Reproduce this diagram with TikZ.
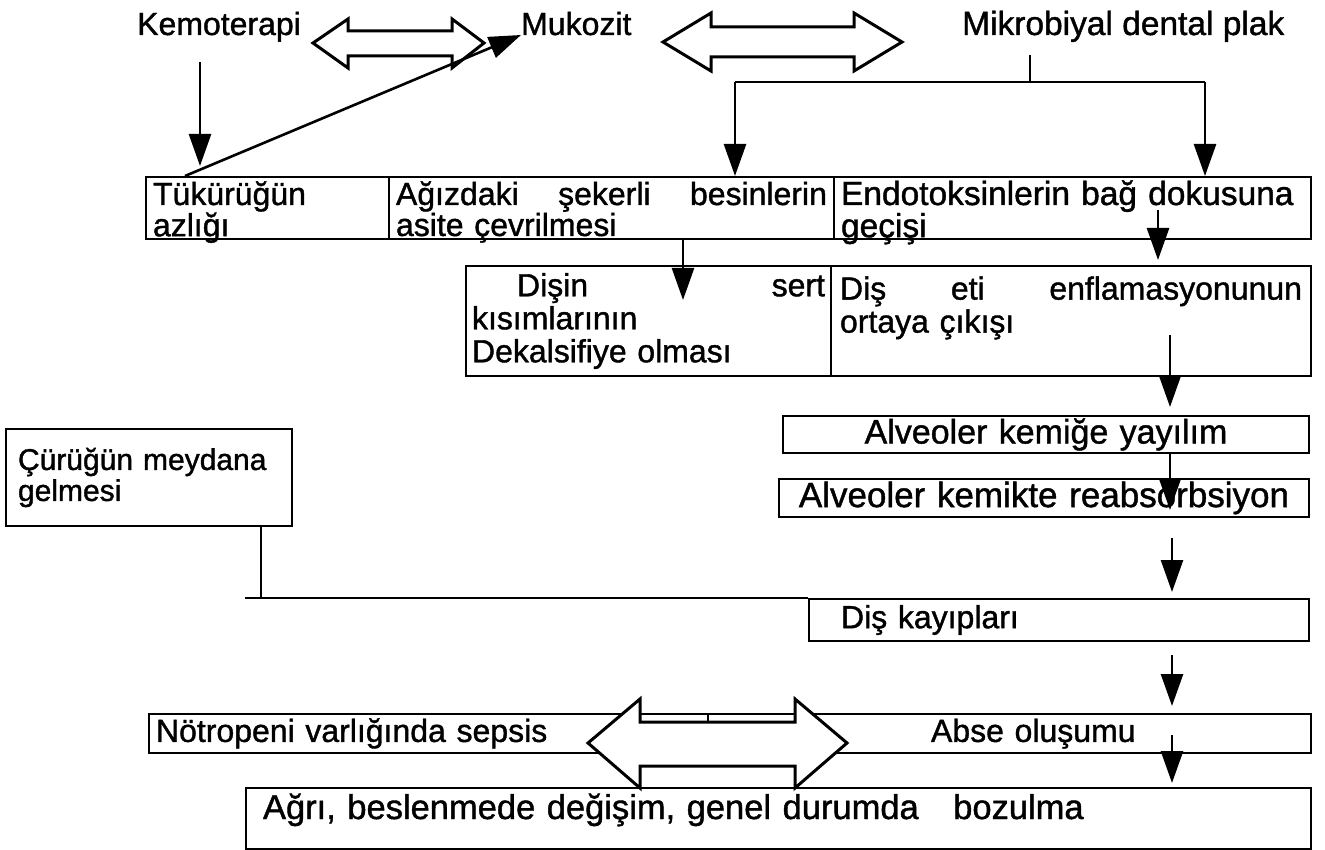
\documentclass[tikz,border=0pt]{standalone}
\usepackage{fontspec}
\setmainfont{Liberation Sans}[FakeBold=1.2]
\usetikzlibrary{arrows.meta, positioning, calc}
\newcommand{\fsz}{\fontsize{32}{31}\selectfont}

\begin{document}
\begin{tikzpicture}[
    x=1pt, y=-1pt,
    every node/.style={font=\fsz, inner sep=0pt},
    cell/.style={draw, line width=2pt, anchor=north west,
                 inner xsep=7pt, align=left},
    ctr/.style={cell, align=center},
    rowone/.style={cell, minimum height=62pt, text height=26pt, text depth=32pt},
    arrow/.style={line width=2.6pt, -{Triangle[length=32pt, width=22pt]}},
    link/.style={line width=2.2pt},
    fat/.style={draw, line width=3pt, fill=white, line join=miter},
]
\useasboundingbox (0,0) rectangle (1325,850);

% top row
\node[anchor=base west] (kemo) at (137,35) {Kemoterapi};
\node[anchor=base west] (muko) at (521,35) {Mukozit};
\node[anchor=base west, font=\fontsize{33.5}{33}\selectfont] (plak) at (962,35) {Mikrobiyal dental plak};

\draw[fat] (313,43) -- (348,19) -- (348,31) -- (452,31) -- (452,19) -- (484,43)
    -- (452,68) -- (452,56) -- (348,56) -- (348,68) -- cycle;
\draw[fat] (663,42) -- (711,13) -- (711,27) -- (854,27) -- (854,13) -- (902,42)
    -- (854,71) -- (854,57) -- (711,57) -- (711,71) -- cycle;

% first row of cells
\node[rowone, minimum width=243pt, text width=229pt,
      font=\fontsize{32}{28}\selectfont] (tuk) at (145,176)
    {Tükürüğün\\azlığı};
\node[rowone, minimum width=445pt, text width=431pt,
      font=\fontsize{32}{28}\selectfont] (seker) at (388,176)
    {Ağızdaki\hfill şekerli\hfill besinlerin\\asite çevrilmesi};
\node[rowone, minimum width=477pt, text width=463pt,
      font=\fontsize{33.5}{28}\selectfont] (endo) at (833,176)
    {Endotoksinlerin bağ dokusuna\\geçişi};

% second row
\node[cell, minimum width=365pt, minimum height=110pt, text width=353pt, inner xsep=6pt,
      font=\fontsize{32}{33}\selectfont] (sert) at (465,265)
    {\hspace*{45pt}Dişin\hfill sert\\kısımlarının\\Dekalsifiye olması};
\node[cell, minimum width=480pt, minimum height=110pt, text width=462pt, inner xsep=9pt,
      font=\fontsize{32}{33}\selectfont] (eti) at (830,265)
    {Diş\hfill eti\hfill enflamasyonunun\\ortaya çıkışı\\\mbox{}};

\node[ctr, minimum width=526pt, minimum height=37pt, text width=512pt,
      font=\fontsize{34}{34}\selectfont] (alv1) at (782,415)
    {Alveoler kemiğe yayılım};
\node[ctr, minimum width=530pt, minimum height=38pt, text width=516pt,
      font=\fontsize{35}{35}\selectfont] (alv2) at (778,478)
    {Alveoler kemikte reabsorbsiyon};

\node[cell, minimum width=285pt, minimum height=97pt, text width=262pt, inner xsep=12pt,
      font=\fontsize{30}{31}\selectfont] (curuk) at (5,428)
    {Çürüğün meydana\\gelmesi};
\node[cell, minimum width=500pt, minimum height=42pt, text width=486pt] (kayip) at (808,598)
    {\hspace*{25pt}Diş kayıpları};

\node[cell, minimum width=1162pt, minimum height=39pt, text width=1148pt] (sepsis) at (148,713)
    {\makebox[775pt][l]{Nötropeni varlığında sepsis}Abse oluşumu};
\node[cell, minimum width=1065pt, minimum height=61pt, text width=1031pt, inner xsep=17pt,
      text height=24pt, text depth=23pt, font=\fontsize{34.5}{34}\selectfont] (agri) at (245,787)
    {Ağrı, beslenmede değişim, genel durumda\ \ \ bozulma};

% connectors
\coordinate (k1) at (200,62);
\coordinate (pk) at (1030,55);
\coordinate (split) at (1030,82);
\coordinate (sl) at (735,82);
\coordinate (sr) at (1205,82);
\coordinate (b1) at (683,240);
\coordinate (e1) at (1158,210);
\coordinate (e2) at (1170,335);
\coordinate (e3) at (1172,538);
\coordinate (e4) at (1172,655);
\coordinate (e5) at (1172,735);
\coordinate (j) at (245,598);

\draw[arrow] (k1) -- ([yshift=10pt]k1 |- tuk.north);
\draw[arrow] ([xshift=40pt]tuk.north west) -- (muko.base west);
\draw[link] (pk) -- (split);
\draw[link] (sl) -- (sr);
\draw[arrow] (sl) -- (sl |- seker.north);
\draw[arrow] (sr) -- (sr |- endo.north);
\draw[arrow] (b1) -- ([yshift=-35pt]b1 |- sert.north);
\draw[arrow] (e1) -- ([yshift=5pt]e1 |- eti.north);
\draw[arrow] (e2) -- ([yshift=8pt]e2 |- alv1.north);
\draw[arrow] (alv1.south -| e2) -- ([yshift=-32pt]e2 |- alv2.north);
\draw[arrow] (e3) -- ([yshift=6pt]e3 |- kayip.north);
\draw[link] ([xshift=-32pt]curuk.south east) -- ([xshift=-32pt]curuk.south east |- j);
\draw[link] (j) -- (kayip.north west);
\draw[arrow] (e4) -- ([yshift=7pt]e4 |- sepsis.north);
\draw[arrow] (e5) -- ([yshift=4pt]e5 |- agri.north);

\draw[fat] (588,743) -- (640,699) -- (640,722) -- (795,722) -- (795,699) -- (847,743)
    -- (795,788) -- (795,766) -- (640,766) -- (640,788) -- cycle;
\draw[link, line width=1.4pt] (708,713) -- (708,722);
\end{tikzpicture}
\end{document}
